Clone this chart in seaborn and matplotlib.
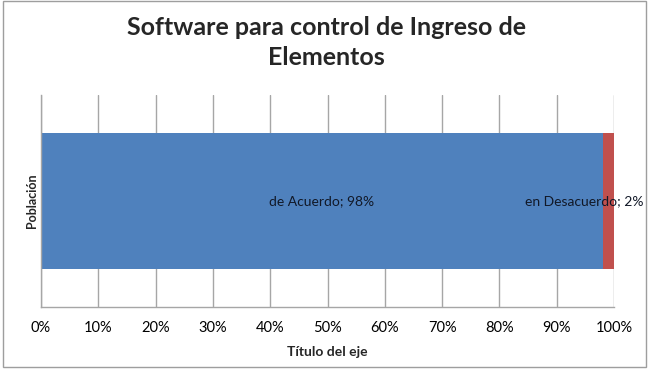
import pandas as pd
import matplotlib
matplotlib.use("Agg")
import matplotlib.pyplot as plt
import seaborn as sns
from matplotlib.ticker import PercentFormatter
from matplotlib.patches import Rectangle

# data
category = ["Población"]
series_names = ["de Acuerdo", "en Desacuerdo"]
acuerdo = [98]
desacuerdo = [2]
x_ticks = [0, 10, 20, 30, 40, 50, 60, 70, 80, 90, 100]

BLUE = "#4F81BD"
RED = "#C0504D"
GRID = "#A6A6A6"

sns.set_theme(style="white")
plt.rcParams["font.family"] = ["Lato", "DejaVu Sans"]

df = pd.DataFrame({
    "cat": category,
    "acuerdo": acuerdo,
    "desacuerdo": desacuerdo,
})
df["total"] = df["acuerdo"] + df["desacuerdo"]

fig = plt.figure(figsize=(6.53, 3.70), dpi=100)
ax = fig.add_axes([0.0628, 0.170, 0.8775, 0.573])

# stacked bar: total drawn first (red), then the first segment on top (blue)
sns.barplot(data=df, x="total", y="cat", orient="h", color=RED,
            width=0.64, saturation=1, linewidth=0, ax=ax)
sns.barplot(data=df, x="acuerdo", y="cat", orient="h", color=BLUE,
            width=0.64, saturation=1, linewidth=0, ax=ax)

ax.set_xlim(0, 100)
ax.set_ylim(0.5, -0.5)
ax.set_xticks(x_ticks)
ax.xaxis.set_major_formatter(PercentFormatter(decimals=0))
ax.set_yticks([])
ax.tick_params(axis="x", labelsize=10.5, colors="black", length=0, pad=10)
ax.xaxis.grid(True, color=GRID, linewidth=1)
ax.set_axisbelow(True)
for side in ["top", "right"]:
    ax.spines[side].set_visible(False)
for side in ["left", "bottom"]:
    ax.spines[side].set_color(GRID)
    ax.spines[side].set_linewidth(1)

ax.set_xlabel("Título del eje", fontsize=10, fontweight="bold", labelpad=8)
ax.set_ylabel("Población", fontsize=9, fontweight="bold", labelpad=2)

# data labels
for i, row in df.iterrows():
    ax.text(row["acuerdo"] / 2, i, f"{series_names[0]}; {row['acuerdo']}%",
            ha="center", va="center", fontsize=10, color="#111827")
    ax.text(1.0506, i, f"{series_names[1]}; {row['desacuerdo']}%",
            transform=ax.get_yaxis_transform(), ha="right", va="center",
            fontsize=10, color="#111827")

fig.text(0.5, 0.958, "Software para control de Ingreso de\nElementos",
         ha="center", va="top", fontsize=18, fontweight="bold",
         linespacing=1.4)

# chart area border
fig.patches.append(Rectangle((0.005, 0.008), 0.985, 0.99, transform=fig.transFigure,
                             fill=False, edgecolor="#9E9E9E", linewidth=1))

fig.savefig("out.png", dpi=100)
